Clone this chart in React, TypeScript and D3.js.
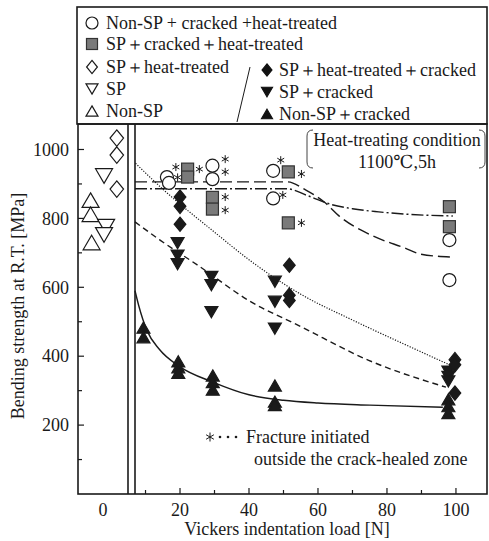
import React, { useEffect, useRef } from 'react';
import * as d3 from 'd3';

type Pt = [number, number]; // [load N, strength MPa]

// control specimens at load 0 (small x offsets only separate the markers)
const ctrlNonSP: Pt[] = [[-3.6, 853], [-3.6, 812], [-3.3, 730]];
const ctrlSP: Pt[] = [[0.3, 923], [0.9, 776], [0.3, 752]];
const ctrlSPHeat: Pt[] = [[4.0, 1033], [4.0, 984], [4.0, 885]];

// indented specimens
const nonSPCrackHeat: Pt[] = [
  [16.2, 920], [16.8, 903], [29.4, 953], [29.4, 914], [47.0, 938], [47.0, 858], [98.1, 737], [98.1, 621],
];
const spCrackHeat: Pt[] = [
  [22.2, 943], [22.2, 920], [29.4, 861], [29.4, 827], [51.4, 935], [51.4, 787], [98.1, 834], [98.1, 776],
];
const spHeatCrack: Pt[] = [
  [20.0, 862], [20.0, 835], [20.0, 783], [51.7, 664], [51.7, 577], [51.7, 562], [99.7, 390], [99.7, 375], [99.7, 293],
];
const spCrack: Pt[] = [
  [19.3, 728], [19.3, 692], [19.3, 667], [29.1, 630], [29.1, 606], [29.1, 528],
  [47.5, 616], [47.5, 558], [47.5, 480], [97.8, 355], [97.8, 340], [97.8, 327],
];
const nonSPCrack: Pt[] = [
  [9.4, 483], [9.4, 455], [19.5, 385], [19.5, 368], [19.5, 352], [29.5, 344], [29.5, 325], [29.5, 303],
  [47.5, 315], [47.5, 268], [47.5, 258], [97.8, 275], [97.8, 255], [97.8, 235],
];

// fitted trend curves
const fitNonSPCrackHeat: Pt[] = [[6.95, 906], [51.1, 906], [56.5, 882], [62, 846], [66, 808], [75.5, 751], [85.2, 714], [89.9, 696], [98.3, 688]];
const fitSPCrackHeat: Pt[] = [[6.95, 886], [51, 886], [57, 866], [64, 840], [70, 828], [77.6, 819], [86, 812], [99.1, 807]];
const fitSPHeatCrack: Pt[] = [[7.1, 960], [15, 885], [30, 760], [40, 680], [55, 580], [70, 505], [85, 435], [98.8, 372]];
const fitSPCrack: Pt[] = [[6.95, 790], [14.2, 737], [25, 665], [40.2, 560], [55, 486], [74.7, 388], [97.1, 310]];
const fitNonSPCrack: Pt[] = [[6.95, 590], [8, 548], [10.4, 475], [14, 420], [20, 369], [29.5, 325], [40, 288], [50, 272], [60, 264], [75, 258], [96.2, 252]];

// "fracture initiated outside the crack-healed zone" marks
const starMarks: Pt[] = [
  [18.8, 949], [19.3, 919], [25.6, 943], [33.1, 972], [33.1, 935], [33.1, 862], [33.1, 824],
  [49.2, 969], [49.8, 868], [55.2, 929], [55.2, 787],
];

const xMajor = [20, 40, 60, 80, 100];
const xMinor = [10, 30, 50, 70, 90];
const yMajor = [200, 400, 600, 800, 1000];
const yMinor = [100, 300, 500, 700, 900];

const legendLeft = [
  { kind: 'circle', fill: 'none', label: 'Non-SP + cracked +heat-treated' },
  { kind: 'square', fill: '#7a7a7a', label: 'SP＋cracked＋heat-treated' },
  { kind: 'diamond', fill: 'none', label: 'SP＋heat-treated' },
  { kind: 'down', fill: 'none', label: 'SP' },
  { kind: 'up', fill: 'none', label: 'Non-SP' },
];
const legendRight = [
  { kind: 'diamond', fill: '#111', label: 'SP＋heat-treated＋cracked' },
  { kind: 'down', fill: '#111', label: 'SP＋cracked' },
  { kind: 'up', fill: '#111', label: 'Non-SP＋cracked' },
];

const FONT = 'Liberation Serif, Times New Roman, DejaVu Serif, serif';
const INK = '#1a1a1a';

const App: React.FC = () => {
  const ref = useRef<SVGSVGElement>(null);

  useEffect(() => {
    if (!ref.current) return;
    const svg = d3.select(ref.current);
    svg.selectAll('*').remove();

    const L = 78, R = 487, T = 124, B = 494;
    const breakA = 128, breakB = 135;

    const y = d3.scaleLinear().domain([0, 1074]).range([B, T]);
    const xL = d3.scaleLinear().domain([-7.25, 7.25]).range([L, breakA]);
    const xR = d3.scaleLinear().domain([6.95, 109]).range([breakB, R]);

    svg.append('rect').attr('width', 489).attr('height', 541).attr('fill', '#fff');

    const symbol = (
      g: d3.Selection<SVGGElement, unknown, null, undefined>,
      kind: string, cx: number, cy: number, s: number, fill: string, sw = 1.2
    ) => {
      const stroke = INK;
      if (kind === 'circle') {
        g.append('circle').attr('cx', cx).attr('cy', cy).attr('r', s / 2)
          .attr('fill', fill === 'none' ? '#fff' : fill).attr('stroke', stroke).attr('stroke-width', sw);
        return;
      }
      if (kind === 'square') {
        g.append('rect').attr('x', cx - s / 2).attr('y', cy - s / 2).attr('width', s).attr('height', s)
          .attr('fill', fill).attr('stroke', '#333').attr('stroke-width', sw);
        return;
      }
      let d = '';
      if (kind === 'diamond') {
        const w = s * 0.45, h = s * 0.55;
        d = `M${cx},${cy - h}L${cx + w},${cy}L${cx},${cy + h}L${cx - w},${cy}Z`;
      } else if (kind === 'up') {
        const w = s / 2, h = s * 0.43;
        d = `M${cx},${cy - h}L${cx + w},${cy + h}L${cx - w},${cy + h}Z`;
      } else {
        const w = s / 2, h = s * 0.43;
        d = `M${cx},${cy + h}L${cx + w},${cy - h}L${cx - w},${cy - h}Z`;
      }
      g.append('path').attr('d', d).attr('fill', fill === 'none' ? '#fff' : fill)
        .attr('stroke', fill === 'none' ? stroke : fill).attr('stroke-width', sw).attr('stroke-linejoin', 'miter');
    };

    const star = (g: d3.Selection<SVGGElement, unknown, null, undefined>, cx: number, cy: number, r: number) => {
      [90, 30, 150].forEach((a) => {
        const rad = (a * Math.PI) / 180;
        g.append('line')
          .attr('x1', cx - r * Math.cos(rad)).attr('y1', cy - r * Math.sin(rad))
          .attr('x2', cx + r * Math.cos(rad)).attr('y2', cy + r * Math.sin(rad))
          .attr('stroke', INK).attr('stroke-width', 1);
      });
    };

    // ---- fit lines
    const lines = svg.append('g').attr('fill', 'none').attr('stroke', INK);
    const line = d3.line<Pt>().x((d) => xR(d[0])).y((d) => y(d[1])).curve(d3.curveMonotoneX);
    lines.append('path').attr('d', line(fitNonSPCrackHeat)).attr('stroke-width', 1.4).attr('stroke-dasharray', '12,5');
    lines.append('path').attr('d', line(fitSPCrackHeat)).attr('stroke-width', 1.4).attr('stroke-dasharray', '12,3,2,3');
    lines.append('path').attr('d', line(fitSPHeatCrack)).attr('stroke-width', 1.2).attr('stroke-dasharray', '1.2,1.5');
    lines.append('path').attr('d', line(fitSPCrack)).attr('stroke-width', 1.4).attr('stroke-dasharray', '6,4');
    lines.append('path').attr('d', line(fitNonSPCrack)).attr('stroke-width', 1.4);

    // ---- markers
    const marks = svg.append('g');
    ctrlNonSP.forEach((d) => symbol(marks, 'up', xL(d[0]), y(d[1]), 17, 'none'));
    ctrlSP.forEach((d) => symbol(marks, 'down', xL(d[0]), y(d[1]), 17, 'none'));
    ctrlSPHeat.forEach((d) => symbol(marks, 'diamond', xL(d[0]), y(d[1]), 15, 'none'));
    nonSPCrack.forEach((d) => symbol(marks, 'up', xR(d[0]), y(d[1]), 13, INK));
    spCrack.forEach((d) => symbol(marks, 'down', xR(d[0]), y(d[1]), 13, INK));
    spHeatCrack.forEach((d) => symbol(marks, 'diamond', xR(d[0]), y(d[1]), 13, INK));
    nonSPCrackHeat.forEach((d) => symbol(marks, 'circle', xR(d[0]), y(d[1]), 13, 'none'));
    spCrackHeat.forEach((d) => symbol(marks, 'square', xR(d[0]), y(d[1]), 12, '#7a7a7a'));
    starMarks.forEach((d) => star(marks, xR(d[0]), y(d[1]), 4));

    // ---- frame and broken axis
    const frame = svg.append('g').attr('fill', 'none').attr('stroke', INK).attr('stroke-width', 1.6);
    frame.append('rect').attr('x', L).attr('y', T).attr('width', R - L).attr('height', B - T);
    frame.append('line').attr('x1', breakA).attr('x2', breakA).attr('y1', T).attr('y2', B);
    frame.append('line').attr('x1', breakB).attr('x2', breakB).attr('y1', T).attr('y2', B);

    // ticks
    const ticks = svg.append('g').attr('stroke', INK).attr('stroke-width', 1.2);
    xMajor.forEach((v) => ticks.append('line').attr('x1', xR(v)).attr('x2', xR(v)).attr('y1', B).attr('y2', B - 6));
    xMinor.forEach((v) => ticks.append('line').attr('x1', xR(v)).attr('x2', xR(v)).attr('y1', B).attr('y2', B - 4));
    yMajor.forEach((v) => ticks.append('line').attr('x1', L).attr('x2', L + 6).attr('y1', y(v)).attr('y2', y(v)));
    yMinor.forEach((v) => ticks.append('line').attr('x1', L).attr('x2', L + 4).attr('y1', y(v)).attr('y2', y(v)));

    const txt = svg.append('g').style('font-family', FONT).style('font-size', '18px').attr('fill', INK);
    txt.append('text').attr('x', xL(0)).attr('y', 516).attr('text-anchor', 'middle').text('0');
    xMajor.forEach((v) => txt.append('text').attr('x', xR(v)).attr('y', 516).attr('text-anchor', 'middle').text(v));
    yMajor.forEach((v) => txt.append('text').attr('x', 69).attr('y', y(v)).attr('dy', '0.35em').attr('text-anchor', 'end').text(v));

    txt.append('text').attr('x', 287).attr('y', 535).attr('text-anchor', 'middle').text('Vickers indentation load [N]');
    txt.append('text').attr('transform', 'translate(24,306) rotate(-90)').attr('text-anchor', 'middle')
      .text('Bending strength at R.T. [MPa]');

    // heat-treating annotation
    const ann = svg.append('g').attr('fill', 'none').attr('stroke', '#444').attr('stroke-width', 1);
    ann.append('path').attr('d', 'M313,130 Q307,130 307,136 L307,162 Q307,168 313,168');
    ann.append('path').attr('d', 'M479,130 Q485,130 485,136 L485,162 Q485,168 479,168');
    txt.append('text').attr('x', 397).attr('y', 140).attr('dy', '0.35em').attr('text-anchor', 'middle').text('Heat-treating condition');
    txt.append('text').attr('x', 397).attr('y', 162).attr('dy', '0.35em').attr('text-anchor', 'middle').text('1100℃,5h');

    // fracture note
    const note = svg.append('g');
    star(note, 210, 437, 4.5);
    [220, 228, 236].forEach((cx) => note.append('circle').attr('cx', cx).attr('cy', 437).attr('r', 1.3).attr('fill', INK));
    txt.append('text').attr('x', 246).attr('y', 437).attr('dy', '0.35em').text('Fracture initiated');
    txt.append('text').attr('x', 254).attr('y', 459).attr('dy', '0.35em').text('outside the crack-healed zone');

    // ---- legend box
    const leg = svg.append('g');
    leg.append('rect').attr('x', L - 1).attr('y', 7).attr('width', R - L + 1).attr('height', T - 7)
      .attr('fill', 'none').attr('stroke', INK).attr('stroke-width', 1.6);
    const rowsL = [23, 44, 67, 89, 111];
    legendLeft.forEach((e, i) => {
      symbol(leg, e.kind, 92, rowsL[i], e.kind === 'circle' ? 12 : e.kind === 'square' ? 11 : 12, e.fill);
      txt.append('text').attr('x', 106).attr('y', rowsL[i]).attr('dy', '0.35em').text(e.label);
    });
    const rowsR = [70, 92, 114];
    legendRight.forEach((e, i) => {
      symbol(leg, e.kind, 267, rowsR[i], 11, e.fill);
      txt.append('text').attr('x', 279).attr('y', rowsR[i]).attr('dy', '0.35em').text(e.label);
    });
    leg.append('line').attr('x1', 250).attr('y1', 67).attr('x2', 237).attr('y2', 122)
      .attr('stroke', INK).attr('stroke-width', 1);
  }, []);

  return (
    <svg ref={ref} width={489} height={541}
      style={{ position: 'absolute', left: 0, top: 0, display: 'block' }} />
  );
};

export default App;
